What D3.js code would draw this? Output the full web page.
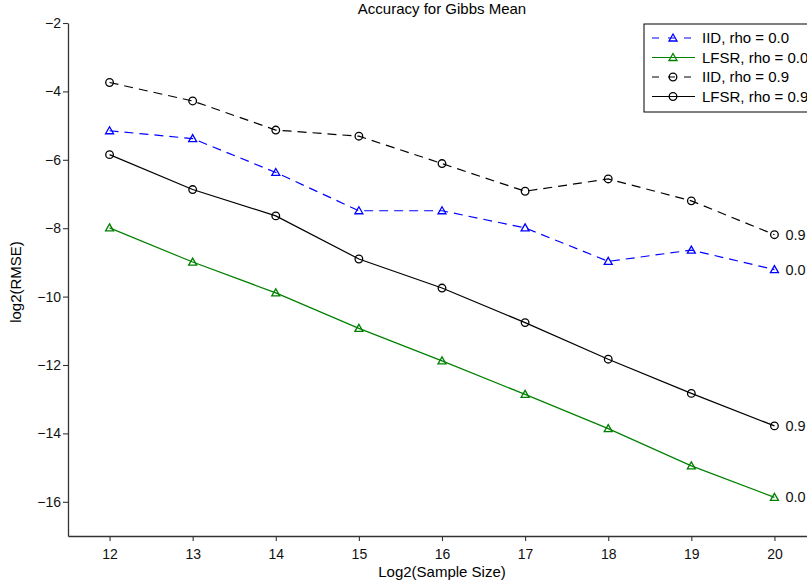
<!DOCTYPE html>
<html>
<head>
<meta charset="utf-8">
<script src="https://cdn.jsdelivr.net/npm/d3@7"></script>
<style>
  body { margin: 0; background: #fff; }
  svg { display: block; font-family: "Liberation Sans", Arial, sans-serif; }
</style>
</head>
<body>
<svg width="807" height="582"></svg>
<script>
// sample sizes (log2)
var sizes = [12, 13, 14, 15, 16, 17, 18, 19, 20];
// log2(RMSE) per series
var iid_00  = [-5.15, -5.38, -6.37, -7.49, -7.49, -7.99, -8.97, -8.64, -9.21];
var lfsr_00 = [-7.99, -8.99, -9.89, -10.93, -11.88, -12.86, -13.86, -14.95, -15.87];
var iid_09  = [-3.74, -4.28, -5.13, -5.31, -6.11, -6.92, -6.56, -7.20, -8.19];
var lfsr_09 = [-5.85, -6.87, -7.64, -8.90, -9.75, -10.76, -11.83, -12.83, -13.78];
var names = ["IID, rho = 0.0", "LFSR, rho = 0.0", "IID, rho = 0.9", "LFSR, rho = 0.9"];
var endLabels = ["0.0", "0.0", "0.9", "0.9"];
var yTicks = [-16, -14, -12, -10, -8, -6, -4, -2];

var series = [
  {name: names[0], vals: iid_00,  color: "#0000ff", dash: "9,6", mark: "tri", end: endLabels[0]},
  {name: names[1], vals: lfsr_00, color: "#008000", dash: null,  mark: "tri", end: endLabels[1]},
  {name: names[2], vals: iid_09,  color: "#000000", dash: "9,6", mark: "circ", end: endLabels[2]},
  {name: names[3], vals: lfsr_09, color: "#000000", dash: null,  mark: "circ", end: endLabels[3]}
];

var svg = d3.select("svg");
var x = d3.scaleLinear().domain([11.5, 20.5]).range([68, 816]);
var y = d3.scaleLinear().domain([-17, -2]).range([536, 23]);

// axes (only left and bottom, ticks outside)
var xAxis = svg.append("g").attr("transform", "translate(0,536)")
  .call(d3.axisBottom(x).tickValues(sizes).tickSize(5).tickSizeOuter(0).tickPadding(8));
var yAxis = svg.append("g").attr("transform", "translate(68,0)")
  .call(d3.axisLeft(y).tickValues(yTicks).tickSize(5).tickSizeOuter(0).tickPadding(2));
[xAxis, yAxis].forEach(function(a){
  a.select(".domain").attr("stroke", "#333").attr("stroke-width", 1.3);
  a.selectAll(".tick line").attr("stroke", "#333").attr("stroke-width", 1.1);
  a.selectAll(".tick text").attr("fill", "#111").style("font-size", "14px")
    .style("font-family", "'Liberation Sans', Arial, sans-serif");
});

svg.append("text").attr("x", 442).attr("y", 14).attr("text-anchor", "middle")
  .style("font-size", "15px").text("Accuracy for Gibbs Mean");
svg.append("text").attr("x", 442).attr("y", 577).attr("text-anchor", "middle")
  .style("font-size", "15px").text("Log2(Sample Size)");
svg.append("text").attr("transform", "translate(21,282) rotate(-90)").attr("text-anchor", "middle")
  .style("font-size", "15px").text("log2(RMSE)");

var line = d3.line().x(function(d){ return x(d[0]); }).y(function(d){ return y(d[1]); });

function marker(g, kind, cx, cy, color) {
  if (kind === "tri") {
    g.append("path")
      .attr("d", "M" + cx + "," + (cy - 4) + "L" + (cx + 4) + "," + (cy + 3) + "L" + (cx - 4) + "," + (cy + 3) + "Z")
      .attr("fill", "none").attr("stroke", color).attr("stroke-width", 1.3);
  } else {
    g.append("circle").attr("cx", cx).attr("cy", cy).attr("r", 3.8)
      .attr("fill", "none").attr("stroke", color).attr("stroke-width", 1.3);
  }
}

series.forEach(function(s){
  var pts = sizes.map(function(v, i){ return [v, s.vals[i]]; });
  var g = svg.append("g");
  g.append("path").attr("d", line(pts)).attr("fill", "none")
    .attr("stroke", s.color).attr("stroke-width", 1.2)
    .attr("stroke-dasharray", s.dash);
  pts.forEach(function(p){ marker(g, s.mark, x(p[0]), y(p[1]), s.color); });
  var last = pts[pts.length - 1];
  g.append("text").attr("x", x(last[0]) + 11).attr("y", y(last[1]) + 5)
    .style("font-size", "14.5px").attr("fill", "#111").text(s.end);
});

// legend
var lg = svg.append("g");
lg.append("rect").attr("x", 644).attr("y", 24).attr("width", 200).attr("height", 88)
  .attr("fill", "#fff").attr("stroke", "#000").attr("stroke-width", 1);
series.forEach(function(s, i){
  var ly = 38 + i * 19.5;
  lg.append("line").attr("x1", 652).attr("x2", 695).attr("y1", ly).attr("y2", ly)
    .attr("stroke", s.color).attr("stroke-width", 1.2)
    .attr("stroke-dasharray", s.dash ? "7,9" : null);
  marker(lg, s.mark, 673, ly, s.color);
  lg.append("text").attr("x", 702).attr("y", ly + 5).style("font-size", "15px").text(s.name);
});
</script>
</body>
</html>
